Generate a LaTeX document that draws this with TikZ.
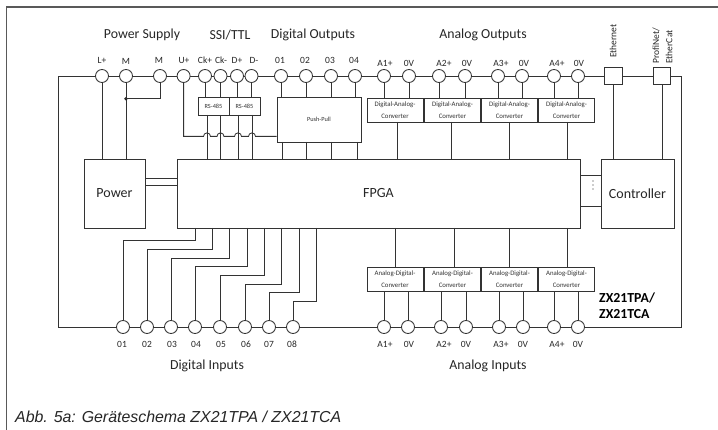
\documentclass[tikz,border=0pt]{standalone}
\usepackage{fontspec}
\setmainfont{Carlito}
\newfontfamily\capfont{Liberation Sans}
\tikzset{x=1pt,y=-1pt,
  wire/.style={draw=black!80,line width=0.85pt},
  frameline/.style={draw=black!65,line width=1.1pt},
  pin/.style={circle,draw=black!80,fill=white,line width=0.85pt,minimum size=13pt,inner sep=0pt},
  sqpin/.style={rectangle,draw=black!80,fill=white,line width=0.85pt,minimum size=17.5pt,inner sep=0pt},
  block/.style={rectangle,draw=black!80,fill=white,line width=0.85pt,inner sep=0pt,align=center},
  small/.style={font=\fontsize{9.5}{11}\selectfont,text=black!85,inner sep=0pt,anchor=center},
  head/.style={font=\fontsize{13.8}{16}\selectfont,text=black!85,inner sep=0pt,anchor=center},
  tiny/.style={font=\fontsize{6.3}{7}\selectfont,text=black!80},
  big/.style={font=\fontsize{14}{16}\selectfont,text=black!85}
}
\begin{document}
\begin{tikzpicture}
\useasboundingbox (0,0) rectangle (718,430);
\coordinate (FA) at (6.5,430);
\coordinate (FB) at (6.5,7);
\coordinate (FC) at (718,7);
\draw[frameline] (FA) -- (FB) -- (FC);
% rails
\coordinate (TL) at (58,76);
\coordinate (TR) at (681,76);
\coordinate (BL) at (58,327);
\coordinate (BR) at (681,327);
\draw[wire] (BL) -- (TL) -- (TR) -- (BR) -- cycle;
% blocks
\node[block,big,minimum width=61pt,minimum height=69pt] (power) at (114.5,193.5) {Power};
\node[block,big,minimum width=403pt,minimum height=69pt] (fpga) at (378.5,193.5) {FPGA};
\node[block,big,minimum width=73pt,minimum height=69pt] (ctrl) at (637.5,193.5) {Controller};
\node[block,tiny,minimum width=31pt,minimum height=18pt] (rsa) at (213.5,106) {RS-485};
\node[block,tiny,minimum width=31pt,minimum height=18pt] (rsb) at (244.5,106) {RS-485};
\node[block,tiny,minimum width=84pt,minimum height=45pt] (pp) at (319,119.5) {Push-Pull};
\tikzset{conv/.style={block,minimum width=56pt,minimum height=24pt,text width=56pt,font=\fontsize{6.8}{12.5}\selectfont,text=black!80}}
\foreach \n/\x in {1/395,2/452.5,3/509.5,4/566.5}{
  \node[conv] (dac\n) at (\x,110) {Digital-Analog-\\Converter};
  \node[conv] (adc\n) at (\x,279) {Analog-Digital-\\Converter};
}
% top pins
\foreach \n/\x in {pL/102,pMa/126,pMb/160,pU/183.6,pCa/205,pCb/220.5,pDa/237,pDb/251.5,
  qa/281,qb/306,qc/331,qd/355,ra/384,rb/409,rc/439,rd/465,re/498,rf/522,rg/554,rh/578}{
  \node[pin] (\n) at (\x,76) {};
}
\node[sqpin] (eth) at (613.5,76) {};
\node[sqpin] (pn) at (662,76) {};
% bottom pins
\foreach \n/\x in {ia/123,ib/147,ic/171,id/195,ie/220,if/245,ig/269,ih/293,
  sa/384,sb/408,sc/441,sd/466,se/499,sf/523,sg/554,sh/578}{
  \node[pin] (\n) at (\x,327) {};
}
% supply links
\draw[wire] (pL) -- (pL |- power.north);
\draw[wire] (pMa) -- (pMa |- power.north);
\coordinate (jM) at (126,98.7);
\fill[black!85] (jM) circle (1.9pt);
\draw[wire] (jM) -- (jM -| pMb) -- (pMb);
% U+ wire with hops
\coordinate (u1) at (183.6,136.4);
\draw[wire] (pU) -- (u1)
  -- (203.5,136.4) arc[start angle=180,end angle=0,radius=3.5pt]
  -- (217,136.4) arc[start angle=180,end angle=0,radius=3.5pt]
  -- (234.5,136.4) arc[start angle=180,end angle=0,radius=3.5pt]
  -- (248.5,136.4) arc[start angle=180,end angle=0,radius=3.5pt]
  -- (pp.west |- u1);
% RS-485 links
\draw[wire] (pCa) -- (pCa |- rsa.north);
\draw[wire] (pCb) -- (pCb |- rsa.north);
\draw[wire] (pDa) -- (pDa |- rsb.north);
\draw[wire] (pDb) -- (pDb |- rsb.north);
\foreach \x in {207,220.5,238,252}{\draw[wire] (\x,115) -- (\x,159);}
% push-pull
\foreach \n in {qa,qb,qc,qd}{\draw[wire] (\n) -- (\n |- pp.north);}
\foreach \x in {282,306,331,357}{\draw[wire] (\x,142) -- (\x,159);}
% DAC
\foreach \a/\b/\c in {ra/rb/dac1,rc/rd/dac2,re/rf/dac3,rg/rh/dac4}{
  \draw[wire] (\a) -- (\a |- \c.north);
  \draw[wire] (\b) -- (\b |- \c.north);
}
\foreach \x in {397,451,509,567}{\draw[wire] (\x,122) -- (\x,159);}
% ADC
\foreach \a/\b/\c in {sa/sb/adc1,sc/sd/adc2,se/sf/adc3,sg/sh/adc4}{
  \draw[wire] (\a) -- (\a |- \c.south);
  \draw[wire] (\b) -- (\b |- \c.south);
}
\foreach \x in {395,454,509,567}{\draw[wire] (\x,228) -- (\x,267);}
% network
\draw[wire] (eth) -- (eth |- ctrl.north);
\draw[wire] (pn) -- (pn |- ctrl.north);
% block links
\draw[wire] (145,178) -- (177,178);
\draw[wire] (145,185) -- (177,185);
\draw[wire] (580,175) -- (601,175);
\draw[wire] (580,206) -- (601,206);
\foreach \y in {181,185,189}{\fill[black!85] (593,\y) circle (0.65pt);}
% digital input fan
\foreach \n/\x/\y in {ia/195/240,ib/212/249,ic/229/258,id/247/266,ie/264/275,if/281/284,ig/299/292,ih/316/301}{
  \draw[wire] (\x,228) -- (\x,\y) -- (\n |- 0,\y) -- (\n);
}
% pin labels
\foreach \x/\t/\y in {102/L+/60,126/M/61,159/M/60,184/U+/60,205/Ck+/60,221/Ck-/60,237/D+/60,254/D-/60,280/01/60,305/02/60,330/03/60,354/04/60,
  385/A1+/63,409/0V/63,444/A2+/63,467/0V/63,501/A3+/63,524/0V/63,557/A4+/63,579/0V/63,
  122/01/344,147/02/344,172/03/344,196/04/344,221/05/344,246/06/344,269/07/344,292/08/344,
  385/A1+/344,409/0V/344,444/A2+/344,466/0V/344,501/A3+/344,523/0V/344,557/A4+/344,578/0V/344}{
  \node[small] (l\x-\y) at (\x,\y) {\t};
}
\node[head] (h1) at (142,35) {Power Supply};
\node[head] (h2) at (230,35) {SSI/TTL};
\node[head] (h3) at (313,35) {Digital Outputs};
\node[head] (h4) at (483,35) {Analog Outputs};
\node[head] (h5) at (207,366) {Digital Inputs};
\node[head] (h6) at (488,366) {Analog Inputs};
\node[small,rotate=90,anchor=west] (e1) at (613,58) {Ethernet};
\node[small,rotate=90,anchor=west] (e2) at (656,64) {ProfiNet/};
\node[small,rotate=90,anchor=west] (e3) at (669,64) {EtherCat};
\node[anchor=west,inner sep=0pt,font=\fontsize{13.8}{16}\selectfont\bfseries] (z1) at (599,298) {ZX21TPA/};
\node[anchor=west,inner sep=0pt,font=\fontsize{13.8}{16}\selectfont\bfseries] (z2) at (599,314.5) {ZX21TCA};
\node[anchor=west,inner sep=0pt,font=\capfont\itshape\fontsize{15.9}{18}\selectfont,text=black!85] (cap) at (15,417) {Abb. 5a: Geräteschema ZX21TPA / ZX21TCA};
\end{tikzpicture}
\end{document}
